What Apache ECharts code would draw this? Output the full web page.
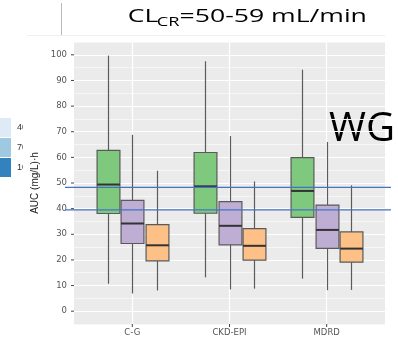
<!DOCTYPE html>
<html><head><meta charset="utf-8">
<script src="https://cdn.jsdelivr.net/npm/echarts@6/dist/echarts.min.js"></script>
<style>html,body{margin:0;padding:0;background:#fff}#c{width:398px;height:340px}</style>
</head><body><div id="c"></div>
<script>
// ---- data ----
const categories = ['C-G', 'CKD-EPI', 'MDRD'];
// each row: [lower whisker, Q1, median, Q3, upper whisker]
const greenBoxes  = [[10.7, 38.1, 49.4, 62.7, 99.7], [13.2, 38.2, 48.7, 61.9, 97.5], [12.7, 36.6, 46.9, 59.9, 94.2]];
const purpleBoxes = [[6.9, 26.4, 34.2, 43.2, 68.8], [8.5, 25.9, 33.3, 42.7, 68.3], [8.2, 24.5, 31.7, 41.4, 66.0]];
const orangeBoxes = [[8.1, 19.6, 25.7, 33.8, 54.8], [8.8, 19.9, 25.5, 32.2, 50.6], [8.3, 19.1, 24.4, 30.9, 49.1]];
const refLines = [48.3, 39.5];
const yTickLabels = [0, 10, 20, 30, 40, 50, 60, 70, 80, 90, 100];
const legendLabels = ['40', '70', '10'];
const legendColors = ['#DEEBF7', '#9ECAE1', '#3182BD'];

// ---- styles ----
const BOX_W = 0.235, DODGE = 0.25;
const EDGE = '#5a5a5a';

function boxSeries(name, rows, color, offset) {
  return {
    type: 'custom', name: name, z: 3,
    data: rows.map((r, i) => [i + 1].concat(r)),
    encode: { x: 0, y: [1, 2, 3, 4, 5] },
    renderItem: function (params, api) {
      const x = api.value(0) + offset;
      const lo = api.coord([x, api.value(1)]);
      const q1 = api.coord([x, api.value(2)]);
      const md = api.coord([x, api.value(3)]);
      const q3 = api.coord([x, api.value(4)]);
      const hi = api.coord([x, api.value(5)]);
      const w = api.size([BOX_W, 0])[0];
      const cx = Math.round(lo[0]) + 0.5;
      return { type: 'group', children: [
        { type: 'line', shape: { x1: cx, y1: hi[1], x2: cx, y2: lo[1] }, style: { stroke: EDGE, lineWidth: 1.2 } },
        { type: 'rect', shape: { x: cx - w / 2, y: q3[1], width: w, height: q1[1] - q3[1] }, style: { fill: color, stroke: EDGE, lineWidth: 1.2 } },
        { type: 'line', shape: { x1: cx - w / 2, y1: md[1], x2: cx + w / 2, y2: md[1] }, style: { stroke: '#333', lineWidth: 2 } }
      ] };
    }
  };
}

const chart = echarts.init(document.getElementById('c'));
const option = {
  animation: false,
  backgroundColor: '#fff',
  grid: { left: 74, top: 42, width: 311, height: 282, show: true, backgroundColor: '#EBEBEB', borderWidth: 0 },
  xAxis: {
    type: 'value', min: 0.4, max: 3.6, interval: 0.2,
    axisLine: { show: false }, axisTick: { show: false },
    splitLine: { show: true, lineStyle: { width: 1.2, color: ['rgba(0,0,0,0)', 'rgba(0,0,0,0)', 'rgba(0,0,0,0)', '#FFFFFF', 'rgba(0,0,0,0)'] } },
    axisLabel: {
      margin: 0, showMinLabel: true, showMaxLabel: true,
      formatter: function (v) {
        const k = Math.round(v);
        if (Math.abs(v - k) < 1e-6 && k >= 1 && k <= categories.length) return '{t|}\n{l|' + categories[k - 1] + '}';
        return '';
      },
      rich: {
        t: { width: 1, height: 3, backgroundColor: '#444' },
        l: { fontSize: 8.5, fontFamily: 'DejaVu Sans', color: '#555', lineHeight: 11 }
      }
    }
  },
  yAxis: {
    type: 'value', min: -5, max: 105, interval: 5,
    name: 'AUC (mg/L)\u00B7h', nameLocation: 'middle', nameRotate: 90, nameGap: 32,
    nameTextStyle: { fontSize: 10, fontFamily: 'Liberation Sans', color: '#222' },
    axisLine: { show: false }, axisTick: { show: false },
    splitLine: { show: true, lineStyle: { width: 1, color: ['#F6F6F6', '#FFFFFF'] } },
    axisLabel: {
      margin: 0,
      formatter: function (v) {
        return yTickLabels.indexOf(v) >= 0 ? '{l|' + v + '}{t|}' : '';
      },
      rich: {
        l: { fontSize: 8.5, fontFamily: 'DejaVu Sans', color: '#555', padding: [0, 4, 0, 0] },
        t: { width: 3, height: 1, backgroundColor: '#444' }
      }
    }
  },
  series: [
    boxSeries('g', greenBoxes, '#7FC97F', -DODGE),
    boxSeries('p', purpleBoxes, '#BEAED4', 0),
    boxSeries('o', orangeBoxes, '#FDC086', DODGE),
    {
      type: 'custom', name: 'ref', z: 5, clip: false,
      data: refLines.map(v => [2, v]),
      encode: { x: 0, y: 1 },
      renderItem: function (params, api) {
        const cs = params.coordSys;
        const y = api.coord([api.value(0), api.value(1)])[1];
        return { type: 'line', shape: { x1: cs.x - 9, y1: y, x2: cs.x + cs.width + 6, y2: y }, style: { stroke: '#4472C4', lineWidth: 1.3 } };
      }
    }
  ],
  graphic: [
    { type: 'line', shape: { x1: 61.5, y1: 3, x2: 61.5, y2: 35 }, style: { stroke: '#BBBBBB', lineWidth: 1 } },
    { type: 'line', shape: { x1: 27, y1: 35.5, x2: 385, y2: 35.5 }, style: { stroke: '#F0F0F0', lineWidth: 1 } },
    { type: 'text', x: 127.7, y: 16.5, scaleX: 1.4, style: { text: 'CL', font: '500 19px "Open Sans"', fill: '#000', verticalAlign: 'middle', align: 'left' } },
    { type: 'text', x: 156.7, y: 22, scaleX: 1.4, style: { text: 'CR', font: '500 13px "Open Sans"', fill: '#000', verticalAlign: 'middle', align: 'left' } },
    { type: 'text', x: 179.5, y: 16.5, scaleX: 1.4, style: { text: '=50-59 mL/min', font: '500 19px "Open Sans"', fill: '#000', verticalAlign: 'middle', align: 'left' } },
    { type: 'text', x: 329, y: 129.5, style: { text: 'WG', font: '40px "Open Sans"', fill: '#000', verticalAlign: 'middle', align: 'left' } }
  ].concat(legendLabels.map((t, i) => ({
    type: 'group', children: [
      { type: 'rect', shape: { x: 0, y: 118 + i * 20, width: 11, height: 19 }, style: { fill: legendColors[i] } },
      { type: 'text', x: 17, y: 127.5 + i * 20, style: { text: t, font: '9px "Liberation Sans"', fill: '#333', verticalAlign: 'middle' } }
    ]
  }))).concat([
    { type: 'rect', z: 100, shape: { x: 23, y: 112, width: 6, height: 70 }, style: { fill: '#fff' } }
  ])
};
chart.setOption(option);
</script>
</body></html>
